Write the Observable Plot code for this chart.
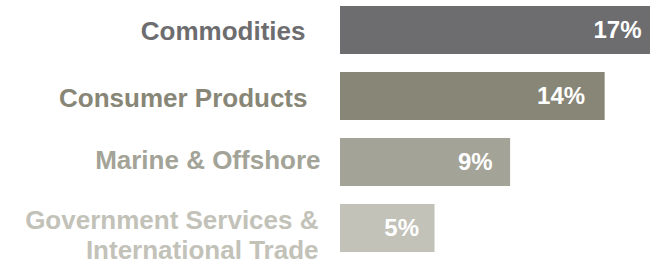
<!DOCTYPE html>
<html>
<head>
<meta charset="utf-8">
<script src="https://cdn.jsdelivr.net/npm/d3@7"></script>
<script src="https://cdn.jsdelivr.net/npm/@observablehq/plot@0.6"></script>
<style>
  html, body { margin: 0; padding: 0; background: #fff; }
  #chart svg { display: block; overflow: visible; }
</style>
</head>
<body>
<div id="chart"></div>
<script>
// Data
const categories = ["Commodities", "Consumer Products", "Marine & Offshore", "Government Services &\nInternational Trade"];
const shares = [16.4, 14, 9, 5];
const valueLabels = ["17%", "14%", "9%", "5%"];

// Styling (not data)
const colors = ["#6d6d6f", "#878677", "#a3a397", "#c2c2b9"];
const catDx = [-35, -33, -20, -22];
const catDy = [0, 1, -3, 6];
const valDx = [-9, -20, -18, -16];

const rows = categories.map((c, i) => ({category: c, share: shares[i], label: valueLabels[i], i}));

const font = "'Liberation Sans', Arial, Helvetica, sans-serif";

const marks = [
  Plot.barX(rows, {
    x: "share",
    y: "category",
    fill: d => colors[d.i]
  })
];

rows.forEach((r, i) => {
  marks.push(Plot.text([r], {
    y: "category",
    text: "category",
    frameAnchor: "left",
    textAnchor: "end",
    dx: catDx[i],
    dy: catDy[i],
    lineHeight: 1.15,
    fill: colors[i],
    fontSize: 26,
    fontWeight: "bold",
    fontFamily: font
  }));
  marks.push(Plot.text([r], {
    x: "share",
    y: "category",
    text: "label",
    textAnchor: "end",
    dx: valDx[i],
    fill: "#ffffff",
    fontSize: 24,
    fontWeight: "bold",
    fontFamily: font
  }));
});

const chart = Plot.plot({
  width: 661,
  height: 266,
  marginLeft: 340,
  marginRight: 11,
  marginTop: 5,
  marginBottom: 13,
  style: {background: "transparent", fontFamily: font},
  x: {domain: [0, 16.4], axis: null},
  y: {domain: categories, axis: null, paddingInner: 0.28, paddingOuter: 0},
  fill: {type: "identity"},
  marks
});
document.getElementById("chart").appendChild(chart);
</script>
</body>
</html>
